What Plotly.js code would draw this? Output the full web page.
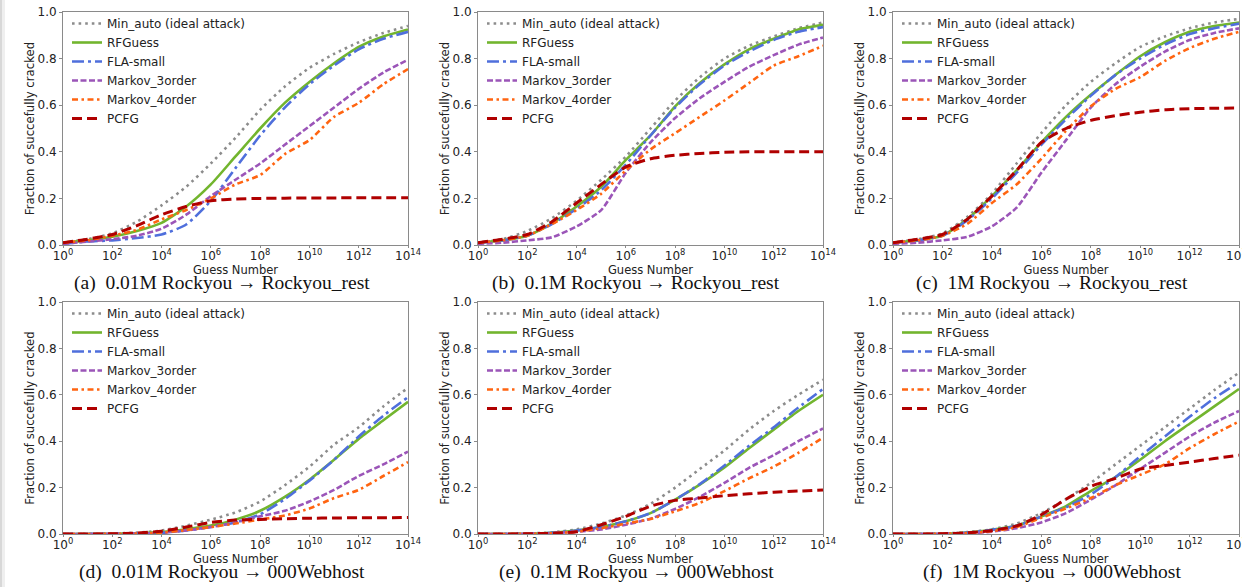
<!DOCTYPE html>
<html>
<head>
<meta charset="utf-8">
<script src="https://cdn.plot.ly/plotly-3.0.1.min.js"></script>
<style>html,body{margin:0;padding:0;background:#fff;}#chart{width:1242px;height:587px;}</style>
</head>
<body>
<div id="chart"></div>
<script>
// Guess numbers (x values) and x tick labels
const guesses = [1e0,1e1,1e2,1e3,1e4,1e5,1e6,1e7,1e8,1e9,1e10,1e11,1e12,1e13,1e14];
const tickValues = [1e0,1e2,1e4,1e6,1e8,1e10,1e12,1e14];
const tickLabels = ["10<sup>0</sup>","10<sup>2</sup>","10<sup>4</sup>","10<sup>6</sup>","10<sup>8</sup>","10<sup>10</sup>","10<sup>12</sup>","10<sup>14</sup>"];
const seriesNames = ["Min_auto (ideal attack)","RFGuess","FLA-small","Markov_3order","Markov_4order","PCFG"];
const captions = [
  "(a)\u00a0\u00a00.01M Rockyou \u2192 Rockyou_rest",
  "(b)\u00a0\u00a00.1M Rockyou \u2192 Rockyou_rest",
  "(c)\u00a0\u00a01M Rockyou \u2192 Rockyou_rest",
  "(d)\u00a0\u00a00.01M Rockyou \u2192 000Webhost",
  "(e)\u00a0\u00a00.1M Rockyou \u2192 000Webhost",
  "(f)\u00a0\u00a01M Rockyou \u2192 000Webhost"
];

// (a) 0.01M Rockyou -> Rockyou_rest
const minAutoA  = [0.01,0.025,0.05,0.10,0.17,0.25,0.35,0.46,0.58,0.68,0.76,0.82,0.87,0.91,0.94];
const rfGuessA  = [0.01,0.02,0.035,0.06,0.095,0.165,0.26,0.38,0.50,0.61,0.70,0.78,0.85,0.895,0.925];
const flaA      = [0.005,0.015,0.02,0.03,0.045,0.088,0.19,0.33,0.47,0.59,0.69,0.77,0.84,0.885,0.915];
const markov3A  = [0.005,0.015,0.025,0.04,0.07,0.13,0.21,0.28,0.35,0.43,0.51,0.59,0.67,0.74,0.795];
const markov4A  = [0.01,0.02,0.04,0.065,0.11,0.15,0.20,0.26,0.30,0.39,0.45,0.55,0.61,0.69,0.755];
const pcfgA     = [0.01,0.025,0.045,0.083,0.13,0.165,0.19,0.197,0.20,0.201,0.202,0.202,0.203,0.203,0.203];

// (b) 0.1M Rockyou -> Rockyou_rest
const minAutoB  = [0.01,0.025,0.06,0.115,0.19,0.28,0.38,0.50,0.62,0.72,0.80,0.855,0.895,0.93,0.955];
const rfGuessB  = [0.01,0.02,0.04,0.093,0.165,0.25,0.365,0.47,0.595,0.695,0.775,0.84,0.885,0.925,0.945];
const flaB      = [0.01,0.02,0.04,0.09,0.155,0.235,0.345,0.47,0.59,0.69,0.77,0.83,0.88,0.915,0.935];
const markov3B  = [0.005,0.01,0.02,0.033,0.08,0.15,0.31,0.44,0.545,0.63,0.70,0.765,0.815,0.86,0.89];
const markov4B  = [0.01,0.02,0.04,0.09,0.15,0.22,0.32,0.41,0.48,0.55,0.62,0.695,0.77,0.81,0.855];
const pcfgB     = [0.01,0.025,0.045,0.10,0.18,0.26,0.335,0.37,0.385,0.393,0.398,0.40,0.40,0.40,0.40];

// (c) 1M Rockyou -> Rockyou_rest
const minAutoC  = [0.01,0.025,0.05,0.12,0.22,0.35,0.48,0.60,0.70,0.78,0.85,0.895,0.93,0.955,0.97];
const rfGuessC  = [0.01,0.02,0.04,0.11,0.21,0.32,0.44,0.55,0.645,0.73,0.81,0.87,0.915,0.94,0.955];
const flaC      = [0.01,0.02,0.04,0.105,0.20,0.31,0.43,0.54,0.64,0.73,0.80,0.86,0.905,0.93,0.95];
const markov3C  = [0.005,0.01,0.02,0.035,0.08,0.16,0.31,0.45,0.59,0.69,0.765,0.83,0.88,0.91,0.93];
const markov4C  = [0.01,0.02,0.04,0.09,0.18,0.26,0.37,0.49,0.595,0.67,0.72,0.79,0.845,0.885,0.915];
const pcfgC     = [0.01,0.025,0.045,0.11,0.21,0.32,0.44,0.50,0.535,0.555,0.57,0.58,0.585,0.587,0.588];

// (d) 0.01M Rockyou -> 000Webhost
const minAutoD  = [0,0.001,0.002,0.006,0.015,0.036,0.062,0.093,0.14,0.21,0.29,0.385,0.46,0.55,0.63];
const rfGuessD  = [0,0,0.001,0.003,0.008,0.02,0.036,0.062,0.10,0.16,0.234,0.32,0.41,0.49,0.57];
const flaD      = [0,0,0.001,0.002,0.005,0.015,0.03,0.05,0.085,0.15,0.23,0.32,0.42,0.51,0.59];
const markov3D  = [0,0,0.001,0.002,0.005,0.015,0.03,0.05,0.076,0.10,0.14,0.19,0.25,0.30,0.355];
const markov4D  = [0,0,0.001,0.002,0.006,0.017,0.03,0.045,0.062,0.08,0.11,0.155,0.19,0.25,0.31];
const pcfgD     = [0,0,0.001,0.004,0.012,0.03,0.05,0.06,0.063,0.066,0.068,0.069,0.07,0.07,0.071];

// (e) 0.1M Rockyou -> 000Webhost
const minAutoE  = [0,0.001,0.002,0.007,0.02,0.045,0.08,0.13,0.20,0.28,0.36,0.45,0.53,0.60,0.665];
const rfGuessE  = [0,0,0.001,0.005,0.015,0.03,0.055,0.09,0.148,0.213,0.287,0.37,0.45,0.53,0.60];
const flaE      = [0,0,0.001,0.005,0.015,0.03,0.055,0.09,0.148,0.215,0.295,0.38,0.46,0.545,0.625];
const markov3E  = [0,0,0.001,0.003,0.01,0.02,0.04,0.066,0.108,0.16,0.22,0.285,0.34,0.40,0.455];
const markov4E  = [0,0,0.001,0.003,0.01,0.025,0.045,0.065,0.098,0.134,0.185,0.24,0.29,0.35,0.415];
const pcfgE     = [0,0,0.001,0.003,0.01,0.04,0.076,0.12,0.145,0.155,0.165,0.173,0.18,0.185,0.19];

// (f) 1M Rockyou -> 000Webhost
const minAutoF  = [0,0.001,0.002,0.008,0.02,0.045,0.09,0.15,0.22,0.30,0.38,0.46,0.54,0.62,0.695];
const rfGuessF  = [0,0,0.001,0.006,0.018,0.035,0.075,0.12,0.185,0.245,0.32,0.40,0.475,0.55,0.625];
const flaF      = [0,0,0.001,0.006,0.018,0.035,0.075,0.115,0.17,0.245,0.335,0.42,0.505,0.585,0.655];
const markov3F  = [0,0,0.001,0.003,0.01,0.025,0.05,0.09,0.148,0.21,0.28,0.35,0.42,0.48,0.53];
const markov4F  = [0,0,0.001,0.004,0.012,0.03,0.07,0.11,0.155,0.21,0.255,0.30,0.37,0.43,0.485];
const pcfgF     = [0,0,0.001,0.005,0.015,0.035,0.083,0.15,0.205,0.24,0.28,0.295,0.31,0.325,0.34];

const panels = [
  [minAutoA,rfGuessA,flaA,markov3A,markov4A,pcfgA],
  [minAutoB,rfGuessB,flaB,markov3B,markov4B,pcfgB],
  [minAutoC,rfGuessC,flaC,markov3C,markov4C,pcfgC],
  [minAutoD,rfGuessD,flaD,markov3D,markov4D,pcfgD],
  [minAutoE,rfGuessE,flaE,markov3E,markov4E,pcfgE],
  [minAutoF,rfGuessF,flaF,markov3F,markov4F,pcfgF]
];

const styles = [
  {color:'#8c8c8c', width:2.6, dash:'2.6px,4px'},
  {color:'#72b52e', width:2.6, dash:'solid'},
  {color:'#4f6fdc', width:2.6, dash:'12px,4px,3px,4px'},
  {color:'#9b55b8', width:2.6, dash:'6px,2.5px'},
  {color:'#ff6410', width:2.6, dash:'6px,3.5px,2.5px,3.5px'},
  {color:'#b00000', width:3.0, dash:'10px,5px'}
];

const W = 1242, H = 587;
const colPx = [[63,408],[478,823],[893,1239]];
const rowPx = [[12,245],[302,534]];

const FONT = 'DejaVu Sans, sans-serif';
const traces = [];
const layout = {
  width: W, height: H,
  margin: {l:0,r:0,t:0,b:0},
  paper_bgcolor: '#ffffff', plot_bgcolor: '#ffffff',
  font: {family: FONT, size: 11, color: '#222'},
  annotations: [], shapes: []
};

for (let p = 0; p < 6; p++) {
  const r = Math.floor(p / 3), c = p % 3;
  const sfx = p === 0 ? '' : String(p + 1);
  const xd = [colPx[c][0] / W, colPx[c][1] / W];
  const yd = [1 - rowPx[r][1] / H, 1 - rowPx[r][0] / H];
  const legName = 'legend' + sfx;
  for (let s = 0; s < 6; s++) {
    traces.push({
      type: 'scatter', mode: 'lines',
      x: guesses, y: panels[p][s], name: seriesNames[s],
      xaxis: 'x' + sfx, yaxis: 'y' + sfx,
      legend: legName,
      line: {color: styles[s].color, width: styles[s].width, dash: styles[s].dash, shape: 'spline', smoothing: 0.6},
      hoverinfo: 'skip'
    });
  }
  layout['xaxis' + sfx] = {
    domain: xd, anchor: 'y' + sfx, type: 'log', range: [0, 14],
    tickmode: 'array', tickvals: tickValues, ticktext: tickLabels,
    showline: true, mirror: true, linecolor: '#8a8a8a', linewidth: 1,
    ticks: 'outside', ticklen: 2, tickcolor: '#8a8a8a', showgrid: false, zeroline: false,
    tickfont: {family: FONT, size: 12, color: '#222'}, ticklabelstandoff: -2,
    ticklabeloverflow: 'allow', automargin: false,
    title: {text: 'Guess Number', font: {family: FONT, size: 11.5, color: '#222'}, standoff: 0}
  };
  layout['yaxis' + sfx] = {
    domain: yd, anchor: 'x' + sfx, range: [0, 1], dtick: 0.2, tickformat: '.1f',
    showline: true, mirror: true, linecolor: '#8a8a8a', linewidth: 1,
    ticks: 'outside', ticklen: 3, tickcolor: '#8a8a8a', showgrid: false, zeroline: false,
    tickfont: {family: FONT, size: 12, color: '#222'},
    ticklabeloverflow: 'allow', automargin: false,
    title: {text: 'Fraction of succefully cracked', font: {family: FONT, size: 11.7, color: '#222'}, standoff: 0}
  };
  layout[legName] = {
    x: (colPx[c][0] + 4) / W, y: 1 - (rowPx[r][0] - 3) / H,
    xanchor: 'left', yanchor: 'top', xref: 'paper', yref: 'paper',
    bgcolor: 'rgba(255,255,255,0)', borderwidth: 0,
    font: {family: FONT, size: 12, color: '#222'}, tracegroupgap: 0
  };
  layout.annotations.push({
    xref: 'paper', yref: 'paper', x: (colPx[c][0] + colPx[c][1]) / 2 / W - 14 / W,
    y: 1 - (rowPx[r][1] + 38) / H, xanchor: 'center', yanchor: 'middle',
    text: captions[p], showarrow: false,
    font: {family: 'Liberation Serif, Times New Roman, serif', size: 19.5, color: '#111'}
  });
}
// page edge shadow on the left
layout.shapes.push({type:'rect', xref:'paper', yref:'paper', x0:0, x1:2/W, y0:0, y1:1, line:{width:0}, fillcolor:'#d8d8d8'});
layout.shapes.push({type:'rect', xref:'paper', yref:'paper', x0:2/W, x1:5/W, y0:0, y1:1, line:{width:0}, fillcolor:'#efefef'});

Plotly.newPlot('chart', traces, layout, {staticPlot: true, displayModeBar: false});
</script>
</body>
</html>
